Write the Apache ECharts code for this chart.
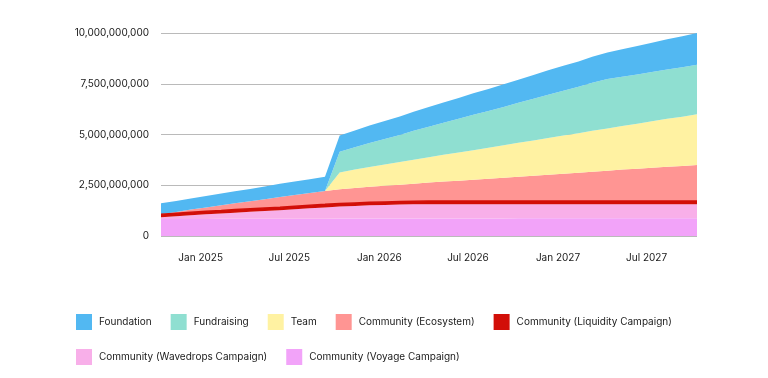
<!DOCTYPE html>
<html><head><meta charset="utf-8">
<script src="https://cdn.jsdelivr.net/npm/echarts@6/dist/echarts.min.js"></script>
<style>html,body{margin:0;padding:0;background:#fff}#c{width:768px;height:378px}</style>
</head><body><div id="c"></div>
<script>
// Monthly unlock dates
const dates = [
 '2024-10-12','2024-11-12','2024-12-12','2025-01-12','2025-02-12','2025-03-12','2025-04-12','2025-05-12','2025-06-12','2025-07-12','2025-08-12','2025-09-12',
 '2025-10-12','2025-11-12','2025-12-12','2026-01-12','2026-02-12','2026-03-12','2026-04-12','2026-05-12','2026-06-12','2026-07-12','2026-08-12','2026-09-12',
 '2026-10-12','2026-11-12','2026-12-12','2027-01-12','2027-02-12','2027-03-12','2027-04-12','2027-05-12','2027-06-12','2027-07-12','2027-08-12','2027-09-12',
 '2027-10-12'
];
// Values in billions of tokens (unlocked per allocation)
const voyage = [0.84,0.84,0.84,0.84,0.85,0.85,0.85,0.85,0.85,0.85,0.85,0.85,
 0.86,0.86,0.86,0.86,0.86,0.86,0.86,0.86,0.86,0.86,0.86,0.86,
 0.87,0.87,0.87,0.87,0.87,0.87,0.87,0.87,0.87,0.87,0.87,0.87,0.87];
const wavedrops = [0.08,0.13,0.18,0.23,0.26,0.30,0.34,0.38,0.42,0.47,0.52,0.56,
 0.59,0.62,0.65,0.67,0.69,0.70,0.71,0.71,0.71,0.71,0.71,0.71,
 0.70,0.70,0.70,0.70,0.70,0.70,0.70,0.70,0.70,0.70,0.70,0.70,0.70];
const liquidity = [0.15,0.15,0.15,0.15,0.15,0.15,0.15,0.15,0.15,0.15,0.15,0.15,
 0.15,0.15,0.15,0.15,0.15,0.15,0.15,0.15,0.15,0.15,0.15,0.15,
 0.15,0.15,0.15,0.15,0.15,0.15,0.15,0.15,0.15,0.15,0.15,0.15,0.15];
const ecosystem = [0,0.06,0.13,0.19,0.25,0.31,0.37,0.43,0.50,0.55,0.60,0.66,
 0.70,0.74,0.77,0.80,0.83,0.87,0.91,0.96,1.00,1.05,1.10,1.15,
 1.20,1.25,1.30,1.35,1.40,1.45,1.50,1.55,1.59,1.64,1.69,1.73,1.78];
const team = [0,0,0,0,0,0,0,0,0,0,0,0,
 0.83,0.90,0.97,1.04,1.11,1.18,1.25,1.32,1.39,1.46,1.53,1.60,
 1.67,1.74,1.81,1.88,1.94,2.01,2.08,2.15,2.22,2.29,2.36,2.43,2.50];
const fundraising = [0,0,0,0,0,0,0,0,0,0,0,0,
 1.02,1.10,1.18,1.26,1.34,1.42,1.50,1.58,1.66,1.74,1.81,1.89,
 1.97,2.05,2.13,2.21,2.29,2.37,2.43,2.43,2.43,2.43,2.43,2.43,2.43];
const foundation = [0.54,0.55,0.55,0.56,0.58,0.60,0.61,0.63,0.65,0.66,0.68,0.70,
 0.80,0.83,0.86,0.89,0.91,0.94,0.97,1.00,1.03,1.06,1.08,1.11,
 1.14,1.17,1.20,1.23,1.25,1.28,1.31,1.35,1.40,1.44,1.49,1.53,1.57];
const yTicks = [0, 2.5, 5, 7.5, 10];
const monthNames = ['Jan','Feb','Mar','Apr','May','Jun','Jul','Aug','Sep','Oct','Nov','Dec'];

const seriesDefs = [
  {name:'Community (Voyage Campaign)', data: voyage, color:'#f2a3f9'},
  {name:'Community (Wavedrops Campaign)', data: wavedrops, color:'#f8afe9'},
  {name:'Community (Liquidity Campaign)', data: liquidity, color:'#d20f08', line:true},
  {name:'Community (Ecosystem)', data: ecosystem, color:'#ff9593'},
  {name:'Team', data: team, color:'#fff2a2'},
  {name:'Fundraising', data: fundraising, color:'#8fdfd1'},
  {name:'Foundation', data: foundation, color:'#52b8f2'}
];
const font = 'Inter, "Noto Sans", sans-serif';
const chart = echarts.init(document.getElementById('c'), null, {renderer:'canvas'});
chart.setOption({
  animation: false,
  backgroundColor: '#fff',
  grid: {left: 161, right: 71, top: 33, bottom: 142},
  legend: {
    data: ['Foundation','Fundraising','Team','Community (Ecosystem)','Community (Liquidity Campaign)','Community (Wavedrops Campaign)','Community (Voyage Campaign)'],
    left: 71, top: 309, width: 640,
    icon: 'rect', itemWidth: 16, itemHeight: 16, itemGap: 19,
    textStyle: {fontSize: 10, color: '#1a1a1a', fontFamily: font, padding: [0,0,0,2]}
  },
  xAxis: {
    type: 'time',
    min: dates[0], max: dates[dates.length-1],
    splitNumber: 6,
    axisLine: {show: false}, axisTick: {show: false}, splitLine: {show: false},
    axisLabel: {
      margin: 17, fontSize: 10, color: '#1a1a1a', fontFamily: font,
      formatter: function (v) {
        const d = new Date(v);
        if (d.getDate() !== 1 || (d.getMonth() !== 0 && d.getMonth() !== 6)) return '';
        return monthNames[d.getMonth()] + ' ' + d.getFullYear();
      }
    }
  },
  yAxis: {
    type: 'value', min: yTicks[0], max: yTicks[yTicks.length-1], interval: yTicks[1]-yTicks[0],
    z: 3,
    axisLine: {show: false}, axisTick: {show: false},
    splitLine: {lineStyle: {color: 'rgba(0,0,0,0.27)', width: 1}},
    axisLabel: {
      margin: 12, fontSize: 10, color: '#1a1a1a', fontFamily: font,
      formatter: function (v) {
        return Math.round(v * 1e9).toString().replace(/\B(?=(\d{3})+(?!\d))/g, ',');
      }
    }
  },
  series: seriesDefs.map(s => ({
    name: s.name, type: 'line', stack: 'total',
    data: dates.map((d, i) => [d, s.data[i]]),
    showSymbol: false, symbol: 'none',
    itemStyle: {color: s.color},
    lineStyle: s.line ? {color: s.color, width: 1.5} : {width: 0, color: s.color},
    areaStyle: {color: s.color, opacity: 1}
  }))
});
</script>
</body></html>
